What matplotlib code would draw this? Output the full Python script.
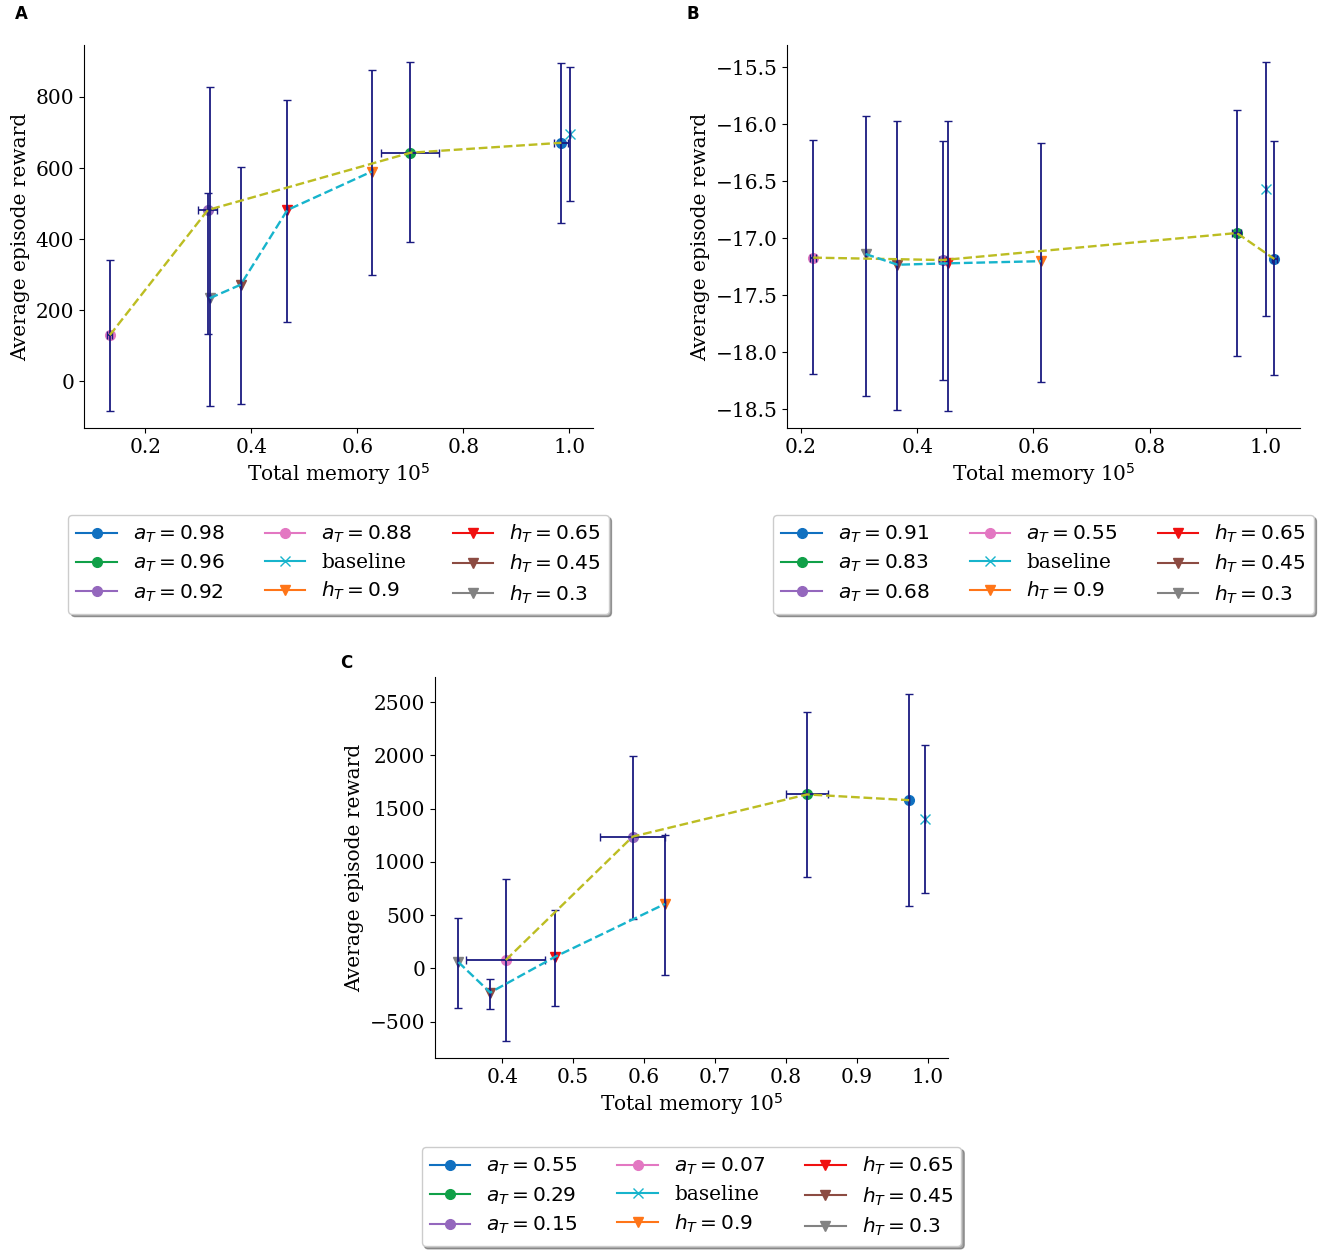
import matplotlib
matplotlib.use("Agg")
import matplotlib.pyplot as plt
from matplotlib.ticker import MultipleLocator

plt.rcParams['font.family'] = ['DejaVu Serif']
plt.rcParams['mathtext.fontset'] = 'dejavusans'
plt.rcParams['font.size'] = 14.5

# series order: four a_T runs, baseline, four h_T runs
colors = ['#1070c0', '#10a048', '#9467bd', '#e377c2', '#17b4cc',
          '#ff7518', '#f01010', '#8c4b42', '#828282']
markers = ['o', 'o', 'o', 'o', 'x', 'v', 'v', 'v', 'v']
h_labels = [r'$h_T = 0.9$', r'$h_T = 0.65$', r'$h_T = 0.45$', r'$h_T = 0.3$']

# Panel A
A_labels = [r'$a_T = 0.98$', r'$a_T = 0.96$', r'$a_T = 0.92$', r'$a_T = 0.88$', 'baseline'] + h_labels
A_x = [0.985, 0.700, 0.318, 0.133, 1.001, 0.627, 0.468, 0.380, 0.3215]
A_y = [671, 643, 482, 130, 695, 590, 482, 272, 234]
A_xerr = [0.013, 0.055, 0.018, 0.005, 0, 0, 0, 0, 0]
A_ylo = [446, 392, 132, -82, 507, 299, 166, -63, -70]
A_yhi = [895, 897, 530, 341, 883, 875, 791, 603, 829]

# Panel B
B_labels = [r'$a_T = 0.91$', r'$a_T = 0.83$', r'$a_T = 0.68$', r'$a_T = 0.55$', 'baseline'] + h_labels
B_x = [1.0146, 0.950, 0.444, 0.221, 1.0, 0.613, 0.453, 0.366, 0.311]
B_y = [-17.181, -16.953, -17.19, -17.169, -16.567, -17.2, -17.219, -17.231, -17.137]
B_xerr = [0.004, 0.008, 0.006, 0.005, 0, 0, 0, 0, 0]
B_ylo = [-18.20, -18.029, -18.242, -18.193, -17.678, -18.263, -18.511, -18.505, -18.386]
B_yhi = [-16.146, -15.871, -16.146, -16.137, -15.456, -16.16, -15.974, -15.97, -15.924]

# Panel C
C_labels = [r'$a_T = 0.55$', r'$a_T = 0.29$', r'$a_T = 0.15$', r'$a_T = 0.07$', 'baseline'] + h_labels
C_x = [0.974, 0.830, 0.584, 0.405, 0.996, 0.6296, 0.4746, 0.383, 0.338]
C_y = [1579, 1633, 1237, 78, 1402, 605, 109, -227, 59]
C_xerr = [0, 0.030, 0.0455, 0.0555, 0, 0, 0, 0, 0]
C_ylo = [589, 857, 467, -679, 707, -59, -352, -383, -374]
C_yhi = [2573, 2405, 1997, 838, 2100, 1252, 545, -96, 474]

a_path = [3, 2, 1, 0]
h_path = [8, 7, 6, 5]


def draw_panel(ax, labels, x, y, xerr, ylo, yhi, legend_y):
    # points (single-point lines so the legend shows line + marker)
    for i in range(len(x)):
        ax.plot([x[i]], [y[i]], marker=markers[i], color=colors[i], linestyle='-',
                markersize=7, label=labels[i], zorder=2)
    yerr = [[y[i] - ylo[i] for i in range(len(y))], [yhi[i] - y[i] for i in range(len(y))]]
    ax.errorbar(x, y, xerr=xerr, yerr=yerr, fmt='none', ecolor='#1a1a80',
                elinewidth=1.3, capsize=3, capthick=1.0, zorder=3)
    ax.plot([x[i] for i in a_path], [y[i] for i in a_path], '--', color='#bcbd22',
            linewidth=1.7, zorder=4)
    ax.plot([x[i] for i in h_path], [y[i] for i in h_path], '--', color='#17b4cc',
            linewidth=1.7, zorder=4)
    ax.spines['top'].set_visible(False)
    ax.spines['right'].set_visible(False)
    ax.set_xlabel('Total memory 10$^5$', labelpad=3)
    ax.set_ylabel('Average episode reward')
    ax.legend(ncol=3, loc='upper center', bbox_to_anchor=(0.5, legend_y),
              fancybox=True, shadow=True, fontsize=14.5, labelspacing=0.4)


fig = plt.figure(figsize=(13.25, 12.53), dpi=100)
W, H = 1325, 1253
axA = fig.add_axes([84 / W, 1 - 428 / H, 509 / W, 383 / H])
axB = fig.add_axes([787 / W, 1 - 428 / H, 513 / W, 383 / H])
axC = fig.add_axes([435 / W, 1 - 1058 / H, 513 / W, 381 / H])

draw_panel(axA, A_labels, A_x, A_y, A_xerr, A_ylo, A_yhi, -0.2)
draw_panel(axB, B_labels, B_x, B_y, B_xerr, B_ylo, B_yhi, -0.2)
draw_panel(axC, C_labels, C_x, C_y, C_xerr, C_ylo, C_yhi, -0.207)
axB.xaxis.set_major_locator(MultipleLocator(0.2))

fig.text(15 / W, 1 - 5 / H, 'A', family='DejaVu Sans', fontweight='bold', fontsize=12, va='top')
fig.text(686 / W, 1 - 5 / H, 'B', family='DejaVu Sans', fontweight='bold', fontsize=12, va='top')
fig.text(340 / W, 1 - 654 / H, 'C', family='DejaVu Sans', fontweight='bold', fontsize=12, va='top')

plt.savefig('out.png', dpi=100)
